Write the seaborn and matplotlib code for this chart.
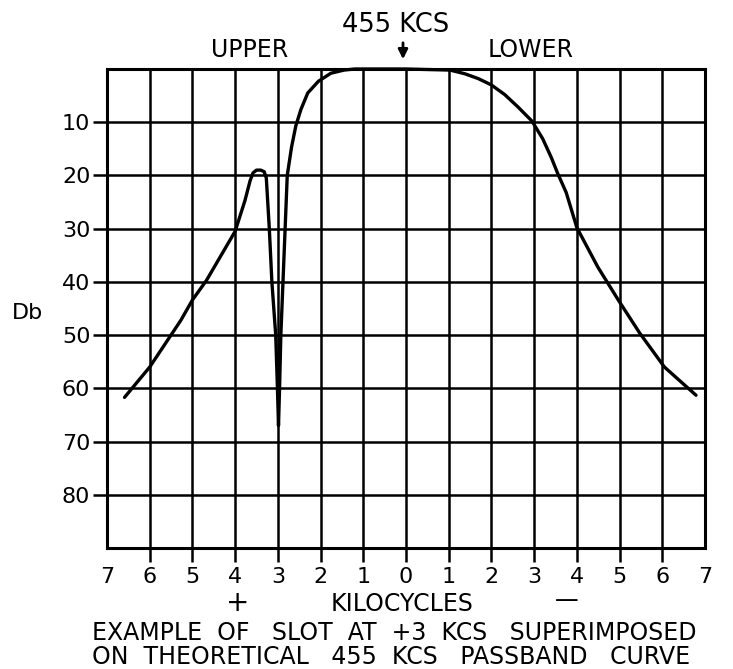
import matplotlib
matplotlib.use("Agg")
import matplotlib.pyplot as plt
import seaborn as sns

# ---- data ----
kc = [-6.59, -6.0, -5.27, -5.0, -4.67, -4.0, -3.77, -3.65, -3.58, -3.5, -3.4,
      -3.32, -3.27, -3.2, -3.14, -3.05, -3.01, -2.985, -2.96, -2.93, -2.88,
      -2.83, -2.78, -2.68, -2.58, -2.46, -2.3, -2.05, -1.76, -1.45, -1.2, 0.0,
      1.03, 1.38, 1.69, 2.0, 2.31, 2.63, 2.95, 3.2, 3.4, 3.55, 3.75, 4.0,
      4.49, 4.97, 5.47, 6.05, 6.79]
db = [61.7, 56, 47.2, 43.4, 39.7, 30.5, 24.7, 21.0, 19.5, 19.0, 19.0,
      19.3, 20.5, 30, 40, 50, 60, 67, 60, 50, 40,
      30, 20, 14.7, 10.7, 7.6, 4.5, 2.3, 0.8, 0.2, 0, 0,
      0.2, 0.9, 1.8, 3.0, 4.8, 7.2, 9.8, 13.1, 16.6, 19.6, 23.2, 29.8,
      37.2, 43.4, 49.6, 56, 61.3]

x_ticks = list(range(-7, 8))
x_tick_labels = ["7", "6", "5", "4", "3", "2", "1", "0", "1", "2", "3", "4", "5", "6", "7"]
y_ticks = [10, 20, 30, 40, 50, 60, 70, 80]
y_tick_labels = ["10", "20", "30", "40", "50", "60", "70", "80"]

caption_line1 = "EXAMPLE  OF   SLOT  AT  +3  KCS   SUPERIMPOSED"
caption_line2 = "ON  THEORETICAL   455  KCS   PASSBAND   CURVE"

sns.set_theme(style="white")
plt.rcParams["font.family"] = ["DejaVu Sans"]

W, H = 733, 669
fig = plt.figure(figsize=(W / 100, H / 100), dpi=100)
ax = fig.add_axes([107 / W, 1 - 548 / H, 598 / W, 479 / H])

sns.lineplot(x=kc, y=db, sort=False, estimator=None, color="black",
             linewidth=2.4, ax=ax, clip_on=False, solid_joinstyle="round",
             solid_capstyle="round")

ax.set_xlim(-7, 7)
ax.set_ylim(90, 0)
ax.xaxis.remove_overlapping_locs = False
ax.yaxis.remove_overlapping_locs = False

ax.set_xticks(x_ticks)
ax.set_xticklabels(x_tick_labels, fontsize=16)
ax.set_xticks(list(range(-6, 7)), minor=True)
ax.tick_params(axis="x", which="major", length=0, pad=14, colors="black")
ax.tick_params(axis="x", which="minor", bottom=True, length=10, width=1.8,
               color="black")

ax.set_yticks([0] + y_ticks + [90])
ax.set_yticklabels([""] + y_tick_labels + [""], fontsize=16)
ax.set_yticks(y_ticks, minor=True)
ax.tick_params(axis="y", which="major", length=0, pad=12, colors="black")
ax.tick_params(axis="y", which="minor", left=True, length=10, width=1.8,
               color="black")

ax.grid(True, which="major", color="black", linewidth=1.8)
for s in ax.spines.values():
    s.set_visible(True)
    s.set_color("black")
    s.set_linewidth(2.2)
ax.set_xlabel("")
ax.set_ylabel("")


def ft(x, y, s, **kw):
    fig.text(x / W, 1 - y / H, s, color="black", va="center", **kw)


ft(28, 313, "Db", ha="center", fontsize=16)
ft(396, 25, "455 KCS", ha="center", fontsize=18.5)
ft(250, 50, "UPPER", ha="center", fontsize=17)
ft(531, 50, "LOWER", ha="center", fontsize=17)
ft(238, 603, "+", ha="center", fontsize=20)
ft(402, 604, "KILOCYCLES", ha="center", fontsize=17)
ft(567, 600, "\u2014", ha="center", fontsize=17)
ft(92, 633, caption_line1, ha="left", fontsize=17)
ft(92, 657, caption_line2, ha="left", fontsize=17)

ax.annotate("", xy=(403 / W, 1 - 62 / H), xytext=(403 / W, 1 - 40 / H),
            xycoords="figure fraction", textcoords="figure fraction",
            arrowprops=dict(arrowstyle="-|>", color="black", lw=2,
                            mutation_scale=14))

fig.savefig("out.png", dpi=100, facecolor="white")
